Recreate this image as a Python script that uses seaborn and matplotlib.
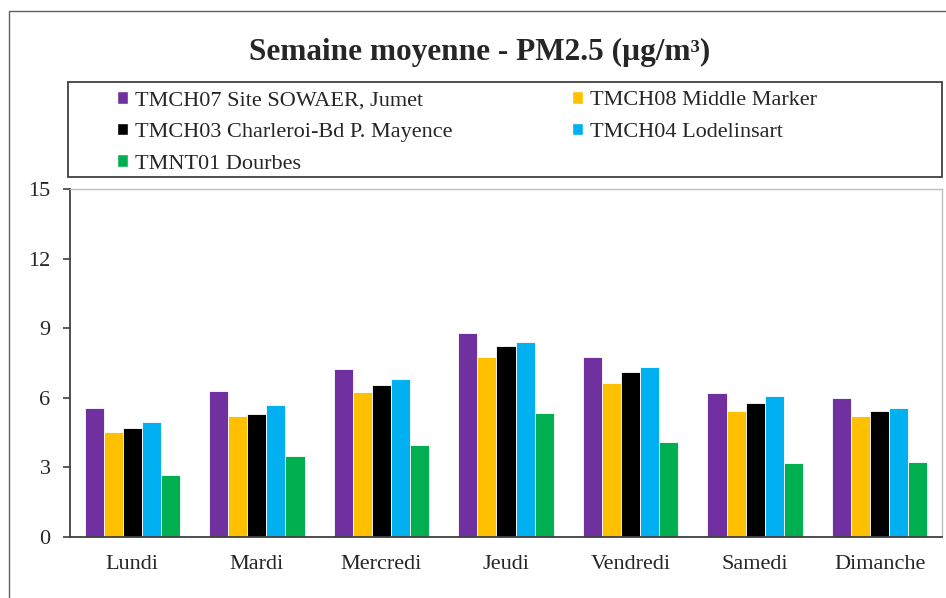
import matplotlib
matplotlib.use("Agg")
import matplotlib.pyplot as plt
import seaborn as sns
import pandas as pd
from matplotlib.patches import Rectangle

days = ["Lundi", "Mardi", "Mercredi", "Jeudi", "Vendredi", "Samedi", "Dimanche"]
stations = ["TMCH07 Site SOWAER, Jumet", "TMCH08 Middle Marker",
            "TMCH03 Charleroi-Bd P. Mayence", "TMCH04 Lodelinsart",
            "TMNT01 Dourbes"]
tmch07 = [5.55, 6.29, 7.23, 8.78, 7.76, 6.19, 6.00]
tmch08 = [4.51, 5.22, 6.25, 7.76, 6.63, 5.45, 5.22]
tmch03 = [4.71, 5.32, 6.54, 8.22, 7.10, 5.78, 5.41]
tmch04 = [4.97, 5.68, 6.81, 8.41, 7.32, 6.07, 5.55]
tmnt01 = [2.68, 3.49, 3.96, 5.36, 4.10, 3.20, 3.25]
colors = ["#7030A0", "#FFC000", "#000000", "#00B0F0", "#00B050"]
yticks = [0, 3, 6, 9, 12, 15]
title = "Semaine moyenne - PM2.5 (µg/m³)"

series = [tmch07, tmch08, tmch03, tmch04, tmnt01]
rows = []
for st, vals in zip(stations, series):
    for d, v in zip(days, vals):
        rows.append({"Jour": d, "Station": st, "Valeur": v})
df = pd.DataFrame(rows)

sns.set_style("white")
plt.rcParams["font.family"] = ["Liberation Serif", "DejaVu Serif"]

fig = plt.figure(figsize=(9.46, 5.98), dpi=100)
W, H = 946, 598
ax = fig.add_axes([70 / W, 1 - 537 / H, (942 - 70) / W, (537 - 189) / H])

sns.barplot(data=df, x="Jour", y="Valeur", hue="Station", order=days,
            hue_order=stations, palette=colors, width=0.765, ax=ax,
            edgecolor="white", linewidth=0.6, legend=False, errorbar=None,
            saturation=1)

ax.set_xlim(-0.5, 6.5)
ax.set_ylim(0, 15)
ax.set_yticks(yticks)
ax.set_yticklabels([str(t) for t in yticks], fontsize=16)
ax.set_xlabel("")
ax.set_ylabel("")
ax.set_xticks(range(len(days)))
ax.set_xticklabels(days, fontsize=16)
ax.set_xticks([i - 0.5 for i in range(len(days) + 1)], minor=True)
ax.tick_params(axis="x", which="major", length=0, pad=13)
ax.tick_params(axis="x", which="minor", length=5, width=1.2, color="#404040", direction="out")
ax.tick_params(axis="y", which="major", length=5, width=1.2, color="#404040",
               direction="out", pad=9, left=True)
for s in ["left", "bottom"]:
    ax.spines[s].set_color("#404040")
    ax.spines[s].set_linewidth(1.3)
for s in ["top", "right"]:
    ax.spines[s].set_color("#BFBFBF")
    ax.spines[s].set_linewidth(1.0)
    ax.spines[s].set_visible(True)

# title
fig.text(480 / W, 1 - 52 / H, title, ha="center", va="center",
         fontsize=22.5, fontweight="bold")

# legend frame
fig.patches.append(Rectangle((68 / W, 1 - 177 / H), (942 - 68) / W, (177 - 82) / H,
                             transform=fig.transFigure, fill=False,
                             edgecolor="#404040", linewidth=1.3))
# outer frame
fig.patches.append(Rectangle((9 / W, -0.05), 1.1, 1 - 11 / H + 0.05,
                             transform=fig.transFigure, fill=False,
                             edgecolor="#606060", linewidth=1.0))

order = [0, 2, 4, 1, 3]
handles = [Rectangle((0, 0), 1, 1, facecolor=colors[i]) for i in order]
labels = [stations[i] for i in order]
leg = fig.legend(handles, labels, ncol=2, loc="upper left",
                 bbox_to_anchor=(117 / W, 1 - 91 / H), frameon=False,
                 fontsize=16, handlelength=0.5, handleheight=0.5,
                 handletextpad=0.3, columnspacing=5.4, labelspacing=0.56,
                 borderaxespad=0, borderpad=0)

fig.savefig("out.png", dpi=100)
